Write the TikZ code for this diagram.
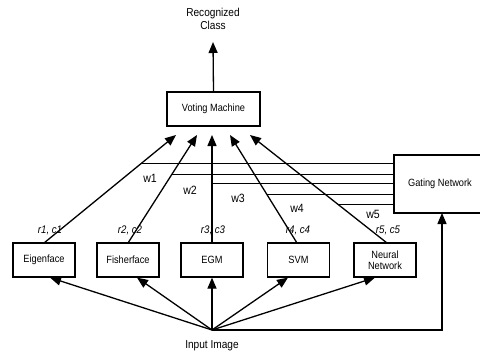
\documentclass[tikz,border=0pt]{standalone}
\usepackage{fontspec}
\setmainfont{Liberation Sans}[FakeStretch=0.88]
\usetikzlibrary{arrows.meta,calc}
\begin{document}
\begin{tikzpicture}[x=1pt,y=-1pt,
  box/.style={draw,line width=1.3pt,minimum width=62pt,minimum height=34pt,inner sep=1pt,align=center,font=\fontsize{10.5}{10.5}\selectfont},
  arr/.style={line width=1.3pt,-{Triangle[length=11pt,width=9pt]}},
  wline/.style={line width=1pt},
  lbl/.style={font=\fontsize{11.5}{13}\selectfont},
  wlbl/.style={font=\fontsize{12}{13}\selectfont},
  rlbl/.style={font=\fontsize{11}{12}\selectfont\itshape}]
\useasboundingbox (0,0) rectangle (480,356);
\node[box,minimum width=93pt] (vm) at (213.5,109) {Voting Machine};
\node[box,minimum width=92pt,minimum height=58pt] (gn) at (440,184) {Gating Network};
\node[box] (b1) at (44,260) {Eigenface};
\node[box] (b2) at (128,260) {Fisherface};
\node[box] (b3) at (212,260) {EGM};
\node[box] (b4) at (298.5,260) {SVM};
\node[box] (b5) at (385,260) {Neural\\Network};
\node[lbl,align=center] (rc) at (213,19) {Recognized\\Class};
\node[lbl] (in) at (212,346) {Input Image};
\coordinate (ip) at (212,330);
\coordinate (t1) at (176,135);
\coordinate (t2) at (197,135);
\coordinate (t3) at (212,135);
\coordinate (t4) at (230,135);
\coordinate (t5) at (250,135);
\coordinate (rt) at (213,42);
\draw[arr] (vm.north) -- (rt);
\coordinate (s1) at (44,243);
\coordinate (s2) at (128,243);
\coordinate (s3) at (212,243);
\coordinate (s4) at (297,243);
\coordinate (s5) at (387,243);
\foreach \i in {1,...,5} \draw[arr] (s\i) -- (t\i);
% weight lines
\foreach \i/\y in {1/163,2/174,3/183,4/194,5/204}{
  \coordinate (x\i) at ($(s\i)!{(243-\y)/108}!(t\i)$);
  \draw[wline] (gn.west |- x\i) -- (x\i);
}
\node[wlbl] (w1) at (150,178) {w1};
\node[wlbl] (w2) at (190,190) {w2};
\node[wlbl] (w3) at (238,198) {w3};
\node[wlbl] (w4) at (297,208) {w4};
\node[wlbl] (w5) at (373,214) {w5};
\node[rlbl] (r1) at (50,230) {r1, c1};
\node[rlbl] (r2) at (130,230) {r2, c2};
\node[rlbl] (r3) at (213,230) {r3, c3};
\node[rlbl] (r4) at (298,230) {r4, c4};
\node[rlbl] (r5) at (388,230) {r5, c5};
% input arrows
\draw[arr] (ip) -- (50,277.6);
\draw[arr] (ip) -- (137,277.6);
\draw[arr] (ip) -- (b3.south);
\draw[arr] (ip) -- (288,277.6);
\draw[arr] (ip) -- (375,277.6);
\draw[arr] (ip) -- (442,330) -- (442,213);
\end{tikzpicture}
\end{document}
